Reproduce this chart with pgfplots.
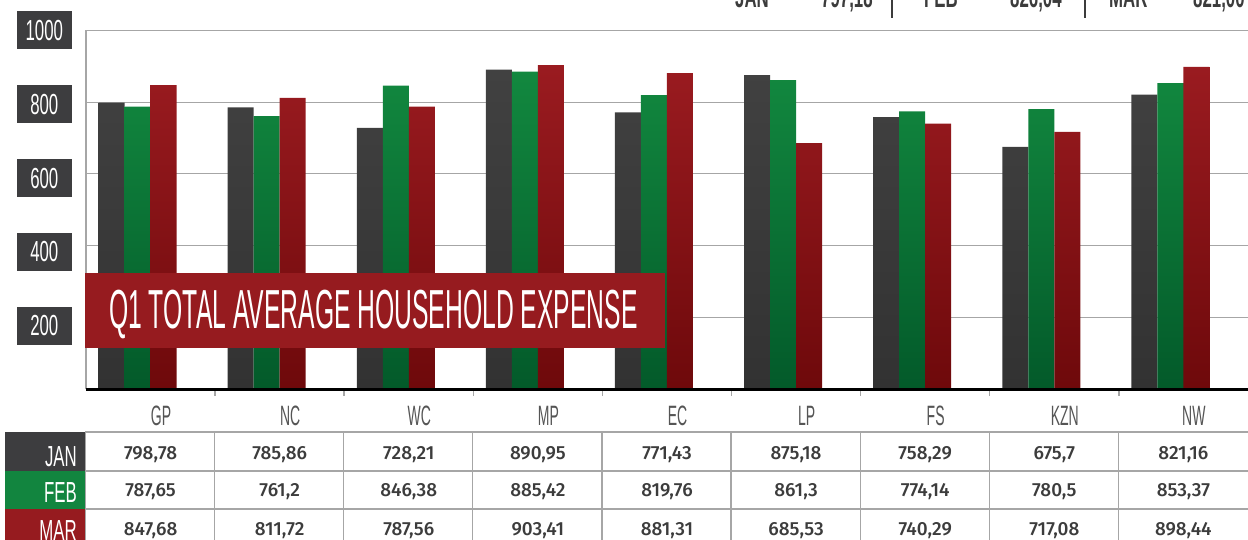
\documentclass[border=0pt]{standalone}
\usepackage{fontspec}
\setmainfont{Liberation Sans}
\newfontfamily\condA{Liberation Sans}[FakeStretch=0.5]
\newfontfamily\condB{Liberation Sans}[FakeStretch=0.58]
\newfontfamily\condT{Liberation Sans}[FakeStretch=0.449]
\newfontfamily\numfont{Fira Sans Medium}
\usepackage{pgfplots}
\pgfplotsset{compat=1.18}

\definecolor{jantop}{HTML}{414141}
\definecolor{janbot}{HTML}{323232}
\definecolor{febtop}{HTML}{12883F}
\definecolor{febbot}{HTML}{035A2A}
\definecolor{martop}{HTML}{9A1B20}
\definecolor{marbot}{HTML}{6E090B}
\definecolor{boxgrey}{HTML}{3D3D3F}
\definecolor{boxgreen}{HTML}{12853F}
\definecolor{boxred}{HTML}{961B1F}
\definecolor{gridgrey}{HTML}{A6A6A6}
\definecolor{baseline}{HTML}{231F20}
\definecolor{xlab}{HTML}{555555}
\definecolor{tabtext}{HTML}{3C3C3C}

\begin{document}
\begin{tikzpicture}[x=1pt,y=1pt]
\useasboundingbox (0,0) rectangle (1248,539);
\begin{axis}[
  at={(86pt,150pt)}, anchor=south west,
  scale only axis, width=1162pt, height=358.5pt,
  xmin=-0.5, xmax=8.5, ymin=0, ymax=1000,
  axis lines=left, axis line style={-},
  x axis line style={draw=none},
  y axis line style={draw=gridgrey, line width=2pt},
  ymajorgrids, major grid style={draw=gridgrey, line width=1.2pt},
  ytick={200,400,600,800,1000},
  ytick style={draw=none},
  /pgf/number format/assume math mode=true,
  /pgf/number format/1000 sep={},
  yticklabel style={font=\condB\fontsize{29}{29}\selectfont, text=white, fill=boxgrey,
    minimum width=55pt, minimum height=38pt, inner sep=0pt, anchor=east, xshift=-14pt,
    yshift={-(4-\ticknum)*2.1pt}},
  xtick={0,1,2,3,4,5,6,7,8},
  xticklabels={GP,NC,WC,MP,EC,LP,FS,KZN,NW},
  major x tick style={draw=none},
  minor xtick={0.5,1.5,2.5,3.5,4.5,5.5,6.5,7.5},
  minor x tick style={draw=gridgrey, line width=1.5pt},
  minor tick length=7pt, tick align=inside,
  xticklabel style={font=\condA\fontsize{28}{28}\selectfont, text=xlab, anchor=base,
    yshift=-32pt, xshift=10.5pt, inner sep=0pt},
  ybar, bar width=26pt,
  clip=false,
]
\addplot[draw=none, top color=jantop, bottom color=janbot, bar shift=-39pt] coordinates {
  (0,798.78) (1,785.86) (2,728.21) (3,890.95) (4,771.43) (5,875.18) (6,758.29) (7,675.7) (8,821.16)};
\addplot[draw=none, top color=febtop, bottom color=febbot, bar shift=-13pt] coordinates {
  (0,787.65) (1,761.2) (2,846.38) (3,885.42) (4,819.76) (5,861.3) (6,774.14) (7,780.5) (8,853.37)};
\addplot[draw=none, top color=martop, bottom color=marbot, bar shift=13pt] coordinates {
  (0,847.68) (1,811.72) (2,787.56) (3,903.41) (4,881.31) (5,685.53) (6,740.29) (7,717.08) (8,898.44)};
\draw[baseline, line width=3pt] (rel axis cs:0,0) -- (rel axis cs:1.01,0);
\end{axis}

% title banner
\fill[boxred] (85,191) rectangle (665,266);
\node[anchor=base west, inner sep=0pt, text=white, font=\condT\fontsize{55}{55}\selectfont] at (109,211) {Q1 TOTAL AVERAGE HOUSEHOLD EXPENSE};

% top-right summary (cut by page edge)
\begin{scope}[every node/.style={anchor=base west, inner sep=0pt, text=tabtext, font=\condB\bfseries\fontsize{29}{29}\selectfont}]
\node at (735,531.5) {JAN};
\node at (821,531.5) {797,18};
\node at (924,531.5) {FEB};
\node at (1010,531.5) {826,04};
\node at (1109,531.5) {MAR};
\node at (1193,531.5) {821,00};
\end{scope}
\draw[tabtext, line width=1.2pt] (892,545) -- (892,520.5);
\draw[tabtext, line width=1.2pt] (1085,545) -- (1085,520.5);

% table
\fill[boxgrey] (5,68) rectangle (85,107);
\fill[boxgreen] (5,30) rectangle (85,68);
\fill[boxred] (5,-10) rectangle (85,30);
\foreach \yy in {107,68,30} \draw[gridgrey, line width=1.2pt] (85,\yy) -- (1252,\yy);
\foreach \k in {0,...,8} \draw[gridgrey, line width=1.2pt] ({85.5+129.1*\k},107) -- ({85.5+129.1*\k},-5);
\begin{scope}[every node/.style={anchor=base east, inner sep=0pt, text=white, font=\condB\fontsize{29}{29}\selectfont}]
\node at (77,73) {JAN};
\node at (77,36.3) {FEB};
\node at (77,-1) {MAR};
\end{scope}
\foreach \i/\a/\b/\c in {0/{798,78}/{787,65}/{847,68}, 1/{785,86}/{761,2}/{811,72},
  2/{728,21}/{846,38}/{787,56}, 3/{890,95}/{885,42}/{903,41}, 4/{771,43}/{819,76}/{881,31},
  5/{875,18}/{861,3}/{685,53}, 6/{758,29}/{774,14}/{740,29}, 7/{675,7}/{780,5}/{717,08},
  8/{821,16}/{853,37}/{898,44}} {
  \node[anchor=base, inner sep=0pt, text=tabtext, font=\numfont\fontsize{19}{19}\selectfont] at ({150.6+129.1*\i},79.7) {\a};
  \node[anchor=base, inner sep=0pt, text=tabtext, font=\numfont\fontsize{19}{19}\selectfont] at ({150.6+129.1*\i},42.3) {\b};
  \node[anchor=base, inner sep=0pt, text=tabtext, font=\numfont\fontsize{19}{19}\selectfont] at ({150.6+129.1*\i},4) {\c};
}
\end{tikzpicture}
\end{document}
